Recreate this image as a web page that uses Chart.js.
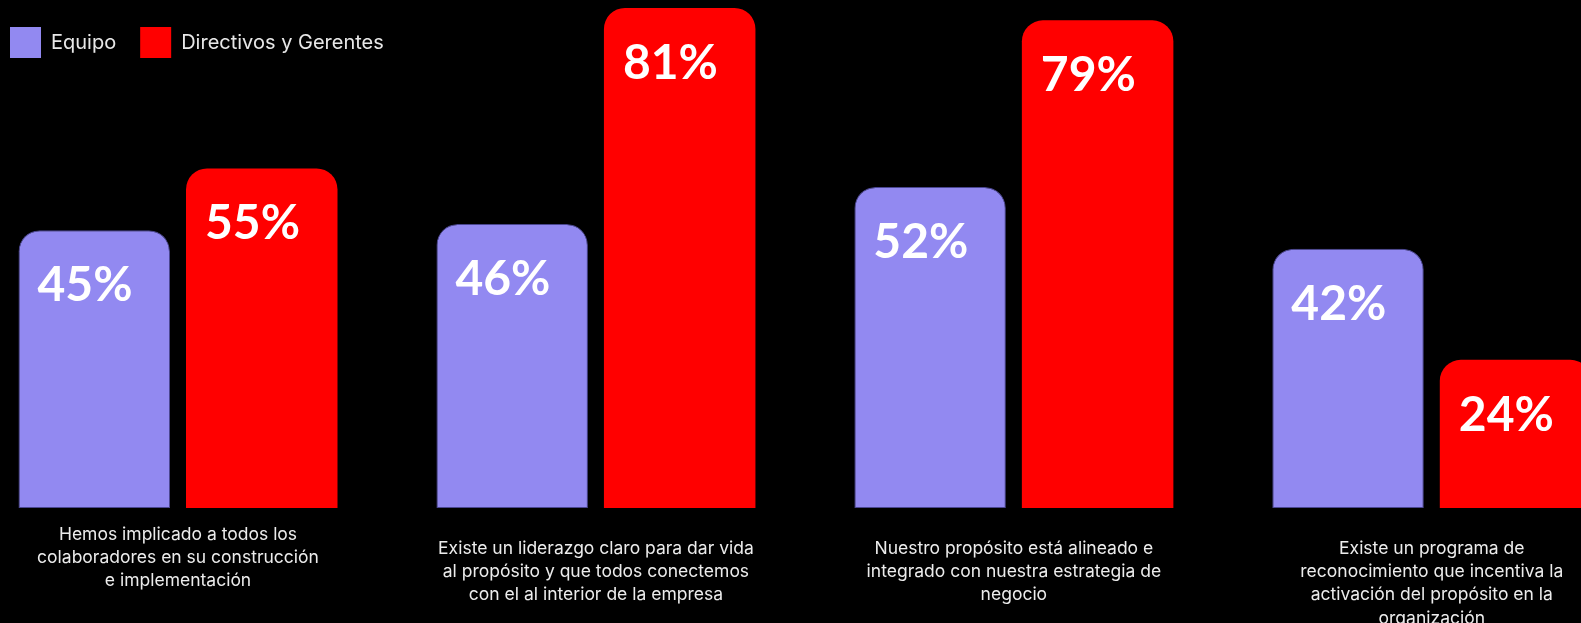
<!DOCTYPE html>
<html>
<head>
<meta charset="utf-8">
<script src="https://cdn.jsdelivr.net/npm/chart.js@4/dist/chart.umd.min.js"></script>
<style>
  html, body { margin: 0; padding: 0; background: #000; overflow: hidden; width: 1581px; height: 623px; }
  #wrap { position: absolute; left: -14px; top: 0; }
</style>
</head>
<body>
<div id="wrap"><canvas id="c" width="1595" height="623"></canvas></div>
<script>
const categories = [
  ["Hemos implicado a todos los", "colaboradores en su construcción", "e implementación"],
  ["Existe un liderazgo claro para dar vida", "al propósito y que todos conectemos", "con el al interior de la empresa"],
  ["Nuestro propósito está alineado e", "integrado con nuestra estrategia de", "negocio"],
  ["Existe un programa de", "reconocimiento que incentiva la", "activación del propósito en la", "organización"]
];
const seriesNames = ["Equipo", "Directivos y Gerentes"];
const equipo = [45, 46, 52, 42];
const directivos = [55, 81, 79, 24];

const FONT = "Inter, 'Noto Sans', sans-serif";
const xMin = -0.4594, xMax = 3.357;

const valueLabels = {
  id: 'valueLabels',
  afterDatasetsDraw(chart) {
    const ctx = chart.ctx;
    ctx.save();
    ctx.fillStyle = '#ffffff';
    ctx.font = "700 48px Lato, Inter, sans-serif";
    ctx.textAlign = 'left';
    ctx.textBaseline = 'alphabetic';
    chart.data.datasets.forEach((ds, i) => {
      const meta = chart.getDatasetMeta(i);
      meta.data.forEach((bar, j) => {
        const p = bar.getProps(['x', 'y', 'width'], true);
        ctx.fillText(ds.data[j].y + '%', p.x - p.width / 2 + 19, p.y + 71);
      });
    });
    ctx.restore();
  }
};

// Legend and the first-label axis overlay the plot without taking layout space.
const overlayBoxes = {
  id: 'overlayBoxes',
  afterInit(chart) {
    const lg = chart.legend;
    if (lg) {
      const origFit = lg.fit;
      lg.fit = function () { origFit.call(this); this.height = 0; };
    }
  },
  afterLayout(chart) {
    const lg = chart.legend;
    if (lg) { lg.height = 80; lg.bottom = lg.top + 80; }
    const s = chart.scales.x2;
    if (s) { s.height = 115; s.bottom = s.top + 115; }
  }
};

const tickFont = { family: FONT, size: 17.5, lineHeight: 1.33 };

function fixAxis(h) {
  return function (scale) { scale.height = h; scale.paddingLeft = 0; scale.paddingRight = 0; };
}

new Chart(document.getElementById('c'), {
  type: 'bar',
  data: {
    datasets: [
      {
        label: seriesNames[0],
        data: equipo.map((v, i) => ({ x: i, y: v })),
        backgroundColor: '#9289F1',
        borderColor: '#4a4690',
        borderWidth: 1,
        borderSkipped: false,
        borderRadius: { topLeft: 21, topRight: 21, bottomLeft: 0, bottomRight: 0 },
        categoryPercentage: 0.8016,
        barPercentage: 0.9045
      },
      {
        label: seriesNames[1],
        data: directivos.map((v, i) => ({ x: i, y: v })),
        backgroundColor: '#FF0000',
        borderWidth: 0,
        borderRadius: { topLeft: 21, topRight: 21, bottomLeft: 0, bottomRight: 0 },
        categoryPercentage: 0.8016,
        barPercentage: 0.9045
      }
    ]
  },
  options: {
    responsive: false,
    animation: false,
    layout: { padding: { top: 3, left: 0, right: 0, bottom: 0 } },
    plugins: {
      tooltip: { enabled: false },
      legend: {
        position: 'top',
        align: 'start',
        labels: {
          boxWidth: 31,
          boxHeight: 31,
          padding: 24,
          color: '#e8e8e8',
          font: { family: FONT, size: 20 },
          generateLabels(chart) {
            return Chart.defaults.plugins.legend.labels.generateLabels(chart)
              .map(l => Object.assign(l, { lineWidth: 0, strokeStyle: 'rgba(0,0,0,0)' }));
          }
        }
      }
    },
    scales: {
      y: { display: false, min: 0, max: 81.8 },
      x: {
        type: 'linear',
        position: 'bottom',
        offset: false,
        weight: 10,
        min: xMin,
        max: xMax,
        grid: { display: false, drawTicks: false, offset: false },
        border: { display: false },
        afterBuildTicks(scale) { scale.ticks = [1, 2, 3].map(v => ({ value: v })); },
        afterFit: fixAxis(115),
        ticks: {
          color: '#ececec',
          font: tickFont,
          padding: 29,
          autoSkip: false,
          maxRotation: 0,
          minRotation: 0,
          callback: (v) => categories[v]
        }
      },
      x2: {
        type: 'linear',
        position: 'bottom',
        offset: false,
        weight: -10,
        min: xMin,
        max: xMax,
        grid: { display: false, drawTicks: false, offset: false },
        border: { display: false },
        afterBuildTicks(scale) { scale.ticks = [0].map(v => ({ value: v })); },
        afterFit: fixAxis(0),
        ticks: {
          color: '#ececec',
          font: tickFont,
          padding: 15,
          autoSkip: false,
          maxRotation: 0,
          minRotation: 0,
          callback: (v) => categories[v]
        }
      }
    }
  },
  plugins: [valueLabels, overlayBoxes]
});
</script>
</body>
</html>
